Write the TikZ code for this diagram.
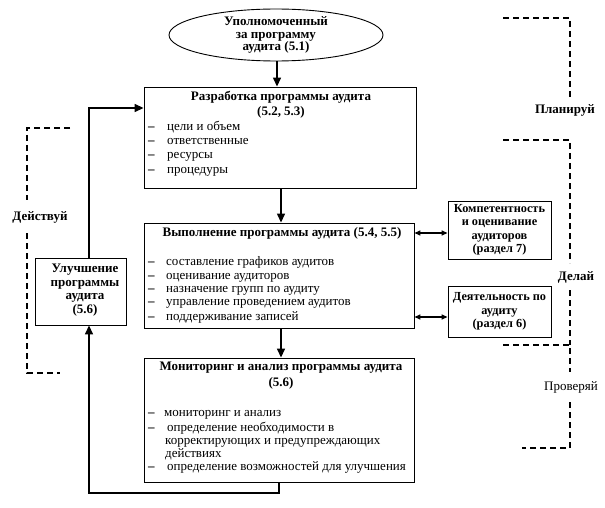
\documentclass[tikz,border=0pt]{standalone}
\usepackage{fontspec}
\setmainfont{Liberation Serif}
\usetikzlibrary{arrows.meta,shapes.geometric}
\begin{document}
\begin{tikzpicture}[x=1pt,y=-1pt,
  box/.style={draw, line width=0.9pt, inner sep=0pt},
  ttl/.style={font=\fontsize{13}{13.5}\selectfont\bfseries, inner sep=0pt, align=center},
  itm/.style={font=\fontsize{13}{13}\selectfont, inner sep=0pt, anchor=west, text height=8pt, text depth=2pt},
  dsh/.style={font=\fontsize{13}{13}\selectfont\bfseries, inner sep=0pt, anchor=west, text height=8pt, text depth=2pt},
  flow/.style={line width=1.4pt, -{Triangle[length=9pt,width=8pt]}},
  both/.style={line width=1.4pt, {Triangle[length=6pt,width=5pt]}-{Triangle[length=6pt,width=5pt]}},
  phase/.style={line width=1.2pt, dash pattern=on 6pt off 4pt},
  plbl/.style={font=\fontsize{13}{13.5}\selectfont\bfseries, inner sep=0pt}]
\useasboundingbox (0,0) rectangle (605,508);

% ellipse
\node[ellipse, draw, line width=0.9pt, minimum width=214pt, minimum height=50pt, inner sep=0pt,
      ttl, font=\fontsize{13}{12.5}\selectfont\bfseries] (ell) at (276,35) {Уполномоченный\\за программу\\аудита (5.1)};

% box 1
\node[box, minimum width=272pt, minimum height=101pt] (b1) at (280,137.5) {};
\node[ttl, font=\fontsize{13}{15}\selectfont\bfseries] (t1) at (281,104.5) {Разработка программы аудита\\(5.2, 5.3)};
\foreach \y/\t [count=\i] in {128/цели и объем,142/ответственные,156/ресурсы,171/процедуры}{
  \node[dsh] (d1\i) at (148,\y) {–};
  \node[itm] (i1\i) at (167,\y) {\t};
}

% box 2
\node[box, minimum width=270pt, minimum height=105pt] (b2) at (279,275.5) {};
\node[ttl] (t2) at (282,233) {Выполнение программы аудита (5.4, 5.5)};
\foreach \y/\t [count=\i] in {262/составление графиков аудитов,276/оценивание аудиторов,289/назначение групп по аудиту,302/управление проведением аудитов,317/поддерживание записей}{
  \node[dsh] (d2\i) at (148,\y) {–};
  \node[itm] (i2\i) at (166,\y) {\t};
}

% box 3
\node[box, minimum width=270pt, minimum height=124pt] (b3) at (279,420) {};
\node[ttl, font=\fontsize{13}{16}\selectfont\bfseries] (t3) at (281,376) {Мониторинг и анализ программы аудита\\(5.6)};
\node[dsh] (d31) at (148,413) {–};
\node[itm] (i31) at (164,413) {мониторинг и анализ};
\node[dsh] (d32) at (148,428) {–};
\node[itm] (i32) at (167,428) {определение необходимости в};
\node[itm] (i33) at (165,441) {корректирующих и предупреждающих};
\node[itm] (i34) at (165,454) {действиях};
\node[dsh] (d35) at (148,467) {–};
\node[itm] (i35) at (167,467) {определение возможностей для улучшения};

% improvement box
\node[box, minimum width=91pt, minimum height=67pt] (b4) at (80.5,291.5) {};
\node[ttl] (t4) at (85,290) {Улучшение\\программы\\аудита\\(5.6)};

% right boxes
\node[box, minimum width=103pt, minimum height=58pt, ttl, font=\fontsize{12.3}{13.5}\selectfont\bfseries] (b5) at (499.5,230) {Компетентность\\и оценивание\\аудиторов\\(раздел 7)};
\node[box, minimum width=103pt, minimum height=51pt, ttl, font=\fontsize{12.3}{13.5}\selectfont\bfseries] (b6) at (499.5,311.5) {Деятельность по\\аудиту\\(раздел 6)};

% main flow
\coordinate (a1) at (277,0);
\draw[flow] (ell.south -| a1) -- (b1.north -| a1);
\coordinate (a2) at (281,0);
\draw[flow] (b1.south -| a2) -- (b2.north -| a2);
\draw[flow] (b2.south -| a2) -- (b3.north -| a2);

% feedback loop
\coordinate (lx) at (89,0);
\coordinate (bx) at (279,0);
\coordinate (by) at (0,493);
\coordinate (ty) at (0,108);
\draw[flow] (b3.south -| bx) -- (bx |- by) -- (lx |- by) -- (b4.south -| lx);
\draw[flow] (b4.north -| lx) -- (lx |- ty) -- (b1.west |- ty);

% double arrows
\coordinate (r1) at (0,233);
\coordinate (r2) at (0,317);
\draw[both] (b2.east |- r1) -- (b5.west |- r1);
\draw[both] (b2.east |- r2) -- (b6.west |- r2);

% phase brackets
\draw[phase] (70,128) -- (27,128) -- (27,200);
\draw[phase] (27,233) -- (27,373) -- (60,373);
\node[plbl] (pa) at (40,217) {Действуй};

\draw[phase] (503,18) -- (570,18) -- (570,100);
\node[plbl] (pp) at (565,110) {Планируй};
\draw[phase] (503,140) -- (570,140) -- (570,263);
\node[plbl] (pd) at (576,277) {Делай};
\draw[phase] (570,290) -- (570,345);
\draw[phase] (503,345) -- (570,345) -- (570,372);
\node[font=\fontsize{13}{13.5}\selectfont, inner sep=0pt] (pc) at (571,387) {Проверяй};
\draw[phase] (570,402) -- (570,448) -- (522,448);
\end{tikzpicture}
\end{document}
